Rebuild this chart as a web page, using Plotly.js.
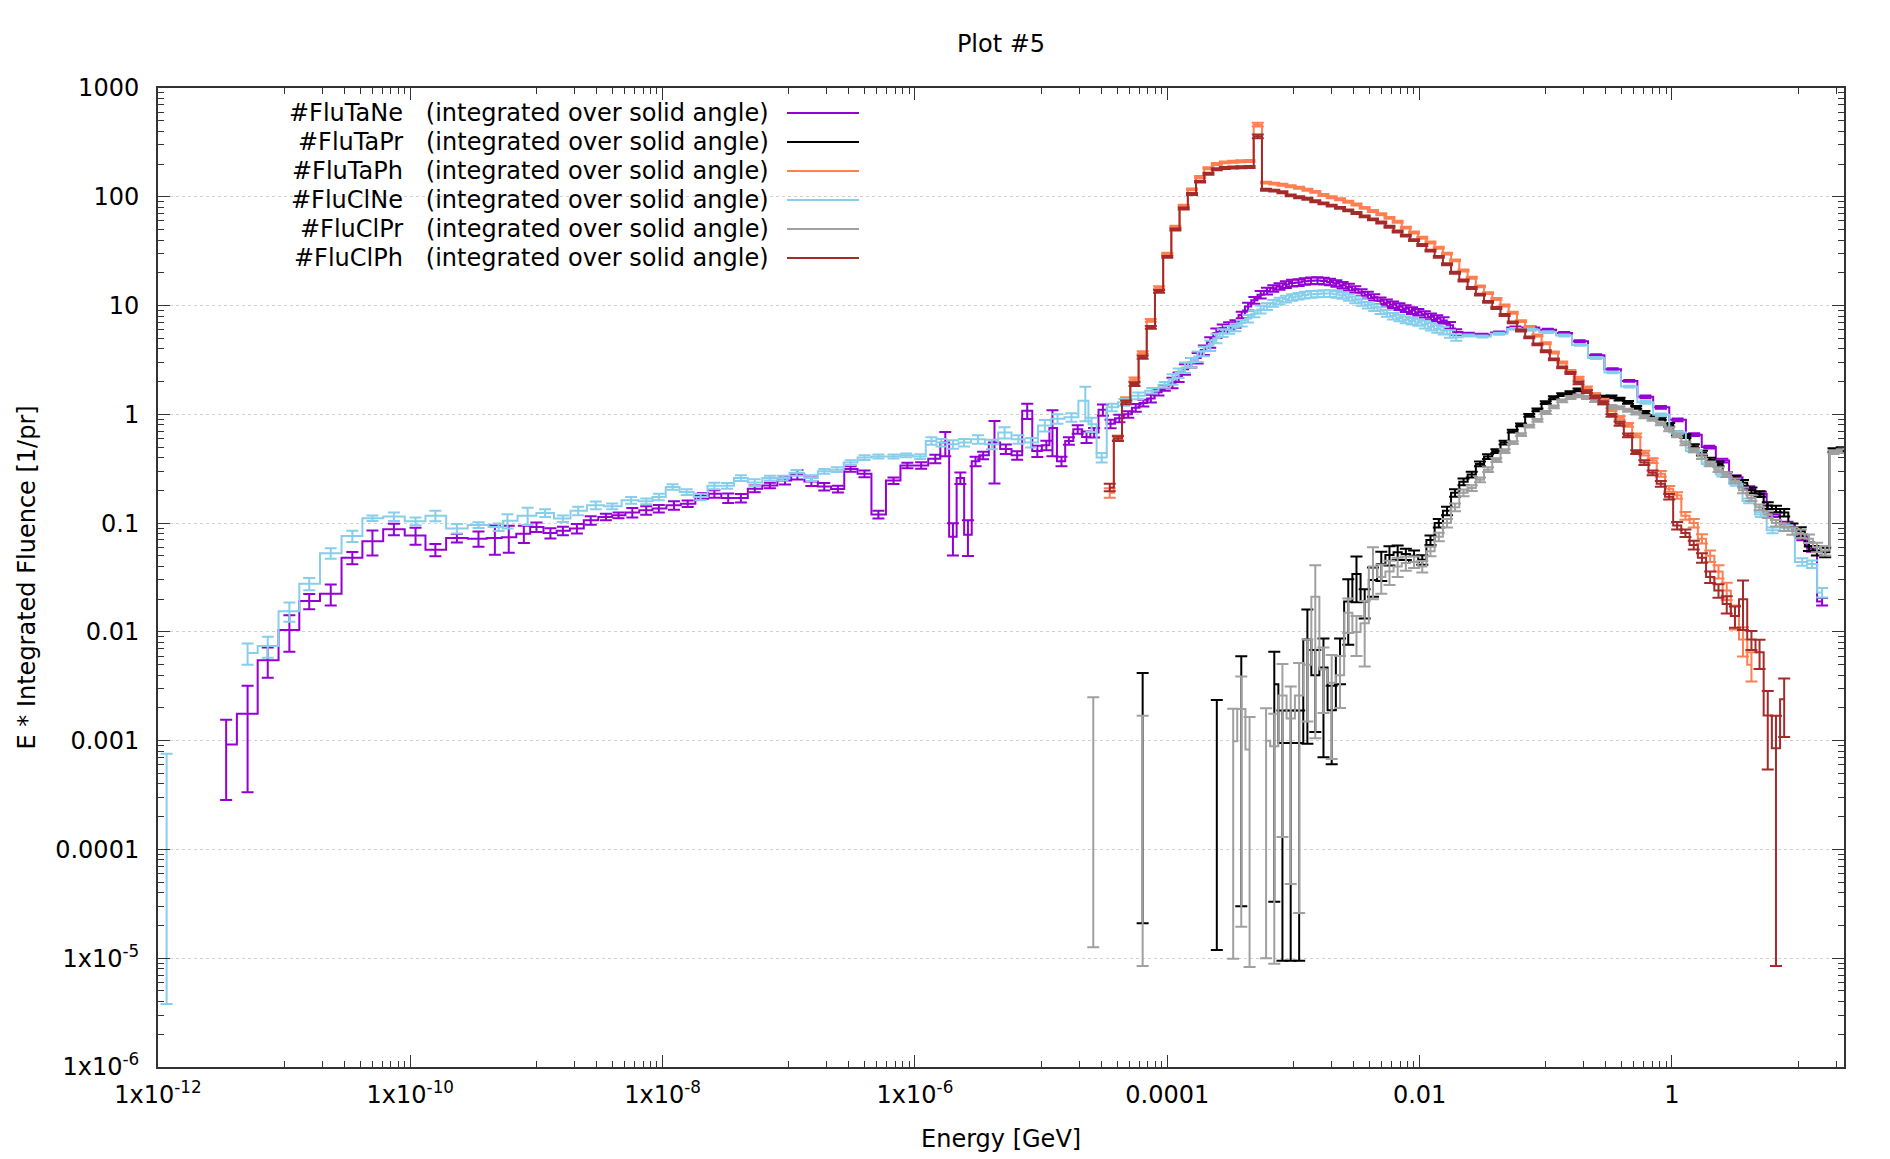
<!DOCTYPE html>
<html>
<head>
<meta charset="utf-8">
<script src="https://cdn.plot.ly/plotly-3.0.1.min.js"></script>
<style>
  html, body { margin: 0; padding: 0; background: #ffffff; }
  #chart { width: 1890px; height: 1159px; }
</style>
</head>
<body>
<div id="chart"></div>
<script>
// ---------------------------------------------------------------
// Boundary-crossing spectra (E * fluence, per primary), histogram
// steps with statistical errors in percent.
// ---------------------------------------------------------------

// Neutron energy bins shared by both neutron detectors (GeV)
const eNeBand = [1.10e-4, 1.23e-4, 1.38e-4, 1.55e-4, 1.74e-4, 1.95e-4, 2.19e-4, 2.45e-4, 2.75e-4, 3.09e-4,
  3.47e-4, 3.89e-4, 4.37e-4, 4.90e-4, 5.50e-4, 6.17e-4, 6.92e-4, 7.76e-4, 8.71e-4, 9.77e-4,
  1.10e-3, 1.23e-3, 1.38e-3, 1.55e-3, 1.74e-3, 1.95e-3, 2.19e-3, 2.45e-3, 2.75e-3, 3.09e-3,
  3.47e-3, 3.89e-3, 4.37e-3, 4.90e-3, 5.50e-3, 6.17e-3, 6.92e-3, 7.76e-3, 8.71e-3, 9.77e-3,
  1.10e-2, 1.23e-2, 1.38e-2, 1.55e-2, 1.74e-2, 1.95e-2];
const eNeHigh = [2.45e-2, 3.16e-2, 4.27e-2, 5.75e-2, 7.59e-2, 0.104, 0.140, 0.186, 0.251, 0.339,
  0.459, 0.617, 0.818, 1.11, 1.50, 1.98, 2.51, 3.21, 4.10, 5.07, 6.27, 8.24, 10.8, 12.9, 15.5];

// #FluTaNe low-energy bins
const eTaNeLow = [3.47e-12, 5.13e-12, 7.41e-12, 1.10e-11, 1.58e-11, 2.34e-11, 3.47e-11, 5.01e-11, 7.41e-11, 1.10e-10,
  1.58e-10, 2.34e-10, 3.47e-10,
  4.68e-10, 6.03e-10, 7.94e-10, 1.00e-9, 1.29e-9, 1.62e-9, 2.09e-9, 2.69e-9, 3.55e-9, 4.47e-9,
  5.75e-9, 7.41e-9, 9.33e-9, 1.23e-8, 1.58e-8, 2.09e-8, 2.57e-8, 3.31e-8, 4.17e-8, 5.37e-8,
  7.08e-8, 9.33e-8, 1.17e-7, 1.51e-7, 1.91e-7, 2.45e-7, 3.09e-7, 3.98e-7, 5.13e-7, 6.76e-7,
  8.71e-7, 1.12e-6, 1.45e-6, 1.74e-6, 2.00e-6, 2.29e-6, 2.63e-6, 3.02e-6, 3.47e-6, 4.27e-6,
  5.25e-6, 6.46e-6, 7.76e-6, 9.33e-6, 1.10e-5, 1.23e-5, 1.45e-5, 1.66e-5, 1.95e-5, 2.29e-5,
  2.63e-5, 3.09e-5, 3.55e-5, 4.17e-5, 4.90e-5, 5.62e-5, 6.46e-5, 7.41e-5, 8.51e-5, 9.55e-5];
const fluTaNe = [9.2e-4, 1.77e-3, 5.5e-3, 0.0104, 0.0192, 0.0224, 0.048, 0.068, 0.088, 0.077,
  0.057, 0.073, 0.072,
  0.073, 0.074, 0.080, 0.092, 0.081, 0.085, 0.089, 0.106, 0.114, 0.118,
  0.125, 0.131, 0.136, 0.146, 0.151, 0.178, 0.186, 0.170, 0.170, 0.207,
  0.222, 0.246, 0.280, 0.241, 0.217, 0.206, 0.315, 0.284, 0.120, 0.246,
  0.339, 0.339, 0.39, 0.55, 0.075, 0.26, 0.078, 0.37, 0.42, 0.55,
  0.48, 0.42, 1.08, 0.46, 0.52, 0.75, 0.37, 0.57, 0.73, 0.62,
  0.68, 1.10, 0.82, 0.92, 1.00, 1.15, 1.27, 1.40, 1.60, 1.75,
  // band
  1.95, 2.2, 2.6, 3.0, 3.3, 3.9, 4.6, 5.6, 6.2, 6.5,
  6.8, 8.2, 9.8, 11.2, 12.6, 13.6, 14.4, 15.0, 15.6, 16.1,
  16.3, 16.7, 16.9, 17.0, 16.8, 16.5, 16.0, 15.4, 14.8, 14.1,
  13.2, 12.5, 11.9, 11.1, 10.6, 10.2, 9.8, 9.4, 9.0, 8.7,
  8.3, 7.9, 7.6, 7.3, 6.6, 5.7,
  // high
  5.5, 5.4, 5.65, 6.3, 6.3, 6.0, 5.6, 4.7, 3.5, 2.6,
  2.03, 1.45, 1.16, 0.89, 0.65, 0.50, 0.376, 0.264, 0.21, 0.185,
  0.12, 0.098, 0.074, 0.058, 0.019];
const errTaNe = [69, 81, 31, 37, 16, 22, 13, 26, 12, 18,
  13, 9, 16,
  30, 28, 18, 10, 11, 9, 10, 9, 7, 6,
  10, 9, 8, 9, 7, 6, 8, 10, 9, 7,
  6, 8, 10, 9, 8, 7, 6, 7, 8, 7,
  6, 7, 9, 25, 33, 12, 36, 10, 8, 58,
  10, 9, 16, 12, 10, 45, 10, 8, 9, 12,
  10, 12, 9, 8, 7, 8, 7, 8, 7, 6,
  11, 10, 11, 10, 11, 10, 11, 10, 8, 8,
  8, 7, 8, 7, 8, 7, 7, 7, 7, 7,
  7, 7, 7, 7, 7, 7, 7, 7, 7, 7,
  7, 7, 7, 7, 7, 7, 7, 7, 7, 7,
  7, 7, 7, 7, 7, 6,
  2, 2, 2, 2, 2, 2, 2, 2, 2, 2,
  2, 3, 3, 3, 3, 3, 4, 4, 4, 5,
  5, 5, 6, 6, 8];

// #FluClNe low-energy bins (null = empty bin)
const eClNeLow = [1.17e-12, 2.51e-12, 5.13e-12, 7.41e-12, 1.10e-11, 1.58e-11, 2.34e-11, 3.47e-11, 5.01e-11, 7.41e-11,
  1.10e-10, 1.58e-10, 2.34e-10, 3.47e-10, 5.01e-10,
  5.89e-10, 8.51e-10, 1.17e-9, 1.62e-9, 2.14e-9, 2.95e-9, 3.98e-9, 5.62e-9, 7.41e-9, 9.33e-9,
  1.20e-8, 1.55e-8, 2.00e-8, 2.57e-8, 3.24e-8, 4.17e-8, 5.37e-8, 7.08e-8, 8.91e-8, 1.15e-7,
  1.51e-7, 1.91e-7, 2.40e-7, 3.09e-7, 3.98e-7, 5.13e-7, 6.76e-7, 8.51e-7, 1.10e-6, 1.35e-6,
  1.62e-6, 2.00e-6, 2.45e-6, 3.16e-6, 4.07e-6, 5.13e-6, 6.61e-6, 8.32e-6, 1.07e-5, 1.35e-5,
  1.74e-5, 2.24e-5, 2.51e-5, 3.02e-5, 3.63e-5, 4.57e-5, 5.89e-5, 7.59e-5, 9.55e-5];
const fluClNe = [3.8e-4, null, 6.4e-3, 7.4e-3, 0.0155, 0.0277, 0.0528, 0.076, 0.111, 0.115,
  0.104, 0.117, 0.089, 0.096, 0.092,
  0.105, 0.117, 0.124, 0.110, 0.130, 0.146, 0.143, 0.162, 0.159, 0.174,
  0.215, 0.193, 0.174, 0.22, 0.22, 0.26, 0.236, 0.26, 0.26, 0.29,
  0.26, 0.30, 0.31, 0.36, 0.40, 0.41, 0.41, 0.42, 0.41, 0.57,
  0.55, 0.53, 0.55, 0.59, 0.53, 0.68, 0.59, 0.55, 0.79, 0.91,
  0.94, 1.33, 0.81, 0.40, 1.16, 1.29, 1.48, 1.65, 1.87,
  // band
  2.1, 2.4, 2.7, 3.0, 3.4, 3.8, 4.3, 5.0, 5.6, 6.0,
  6.3, 6.9, 7.6, 8.4, 9.2, 9.8, 10.5, 11.0, 11.5, 11.9,
  12.2, 12.5, 12.7, 12.8, 12.9, 12.9, 12.7, 12.4, 11.9, 11.3,
  10.7, 10.1, 9.6, 9.0, 8.5, 8.0, 7.7, 7.4, 7.2, 7.0,
  6.7, 6.4, 6.1, 5.9, 5.5, 5.1,
  // high
  5.3, 5.2, 5.5, 6.1, 6.0, 5.7, 5.3, 4.35, 3.3, 2.43,
  1.8, 1.29, 0.99, 0.68, 0.46, 0.35, 0.28, 0.23, 0.16, 0.12,
  0.086, 0.09, 0.044, 0.042, 0.023];
const errClNe = [99, null, 22, 22, 20, 13, 11, 12, 6, 9,
  8, 11, 10, 6, 8,
  15, 18, 8, 7, 9, 8, 6, 7, 6, 7,
  6, 6, 7, 7, 6, 6, 7, 5, 5, 6,
  6, 5, 5, 5, 5, 4, 4, 4, 5, 8,
  8, 9, 8, 9, 10, 12, 9, 10, 12, 10,
  9, 35, 15, 10, 8, 7, 7, 6, 6,
  11, 10, 11, 10, 11, 10, 11, 10, 8, 8,
  8, 7, 8, 7, 8, 7, 7, 7, 7, 7,
  7, 7, 7, 7, 7, 7, 7, 7, 7, 7,
  7, 7, 7, 7, 7, 7, 7, 7, 7, 7,
  8, 8, 8, 8, 8, 7,
  2, 2, 2, 2, 2, 2, 2, 2, 2, 2,
  2, 3, 3, 3, 3, 4, 4, 4, 5, 5,
  6, 6, 8, 8, 10];

// Photon / proton energy bins (GeV), shared by the four charged/photon detectors
const eChg = [2.59e-5, 3.01e-5, 3.50e-5, 4.06e-5, 4.72e-5, 5.50e-5, 6.38e-5, 7.41e-5, 8.61e-5, 1.00e-4,
  1.16e-4, 1.35e-4, 1.57e-4, 1.82e-4, 2.12e-4, 2.47e-4, 2.86e-4, 3.33e-4, 3.86e-4, 4.49e-4,
  5.22e-4, 6.07e-4, 7.05e-4, 8.18e-4, 9.51e-4, 1.11e-3, 1.29e-3, 1.49e-3, 1.73e-3, 2.01e-3,
  2.34e-3, 2.72e-3, 3.16e-3, 3.67e-3, 4.27e-3, 4.97e-3, 5.77e-3, 6.70e-3, 7.78e-3, 9.04e-3,
  1.05e-2, 1.22e-2, 1.42e-2, 1.65e-2, 1.91e-2, 2.23e-2, 2.59e-2, 3.01e-2, 3.49e-2, 4.06e-2,
  4.72e-2, 5.48e-2, 6.37e-2, 7.40e-2, 8.59e-2, 0.100, 0.116, 0.135, 0.157, 0.182,
  0.212, 0.246, 0.286, 0.332, 0.385, 0.449, 0.521, 0.605, 0.703, 0.817,
  0.951, 1.10, 1.28, 1.49, 1.73, 2.01, 2.34, 2.72, 3.16, 3.66,
  4.27, 4.95, 5.75, 6.68, 7.76, 9.02, 10.5, 12.2, 14.1, 16.4,
  19.1, 22.2];

const fluTaPh = [null, null, 0.19, 0.61, 1.38, 2.1, 3.7, 7.3, 14.6, 30,
  53, 83, 117, 152, 183, 200, 207, 210, 212, 213,
  460, 135, 132, 129, 125, 121, 116, 111, 104, 99,
  95, 90, 85, 79, 74, 69, 64, 59, 52, 47,
  42, 38, 34, 30, 26, 21, 18, 15, 13, 11.5,
  10, 8.6, 7.2, 6.3, 5.3, 4.5, 3.7, 3.0, 2.5, 2.15,
  1.75, 1.52, 1.35, 1.10, 0.93, 0.80, 0.64, 0.44, 0.376, 0.284,
  0.207, 0.18, 0.117, 0.10, 0.072, 0.050, 0.036, 0.024, 0.014, 0.0085,
  0.0050, null, null, null, null, null, null, null, null, null,
  null, null];
const errTaPh = [null, null, 10, 5, 4, 4, 3, 3, 3, 2,
  2, 2, 2, 2, 2, 2, 2, 2, 2, 2,
  4, 2, 2, 2, 2, 2, 2, 2, 2, 2,
  2, 2, 2, 2, 2, 2, 2, 2, 2, 2,
  2, 2, 2, 2, 2, 2, 2, 2, 2, 2,
  2, 2, 2, 2, 2, 2, 2, 2, 2, 3,
  3, 3, 3, 3, 4, 4, 4, 5, 5, 6,
  6, 7, 8, 9, 10, 12, 14, 18, 25, 30,
  30, null, null, null, null, null, null, null, null, null,
  null, null];

const fluClPh = [null, null, 0.213, 0.60, 1.29, 1.9, 3.35, 6.3, 13.5, 28,
  50, 78, 106, 138, 163, 179, 184, 186, 187, 188,
  360, 116, 114, 110, 103, 99, 96, 91, 87, 83,
  79, 75, 71, 66, 62, 58, 53, 48, 44, 40,
  36, 32, 28, 24, 20, 17, 14.5, 12.6, 10.8, 9.5,
  8.2, 7.0, 5.9, 5.1, 4.4, 3.8, 3.2, 2.7, 2.4, 1.95,
  1.62, 1.45, 1.28, 0.98, 0.82, 0.64, 0.45, 0.36, 0.29, 0.23,
  0.175, 0.095, 0.081, 0.063, 0.048, 0.032, 0.024, 0.018, 0.014, 0.020,
  0.0085, 0.0065, 1.7e-3, 8.5e-4, 2.4e-3, null, null, null, null, null,
  null, null];
const errClPh = [null, null, 8, 5, 4, 4, 3, 3, 3, 2,
  2, 2, 2, 2, 2, 2, 2, 2, 2, 2,
  4, 2, 2, 2, 2, 2, 2, 2, 2, 2,
  2, 2, 2, 2, 2, 2, 2, 2, 2, 2,
  2, 2, 2, 2, 2, 2, 2, 2, 2, 2,
  2, 2, 2, 2, 2, 2, 2, 2, 2, 3,
  3, 3, 3, 3, 4, 4, 4, 5, 5, 6,
  6, 8, 8, 9, 10, 12, 14, 18, 22, 48,
  20, 30, 68, 99, 55, null, null, null, null, null,
  null, null];

const fluTaPr = [null, null, null, null, null, null, 2.1e-3, null, null, null,
  null, null, null, null, null, 1.19e-3, null, null, 3.0e-3, null,
  null, null, 3.3e-3, 9.5e-4, 9.5e-4, 9.5e-4, 8.5e-3, 4.0e-3, 4.7e-3, 1.9e-3,
  6.0e-3, 0.019, 0.034, 0.019, 0.030, 0.042, 0.051, 0.054, 0.052, 0.050,
  0.046, 0.070, 0.10, 0.13, 0.19, 0.24, 0.28, 0.35, 0.41, 0.46,
  0.55, 0.70, 0.80, 0.98, 1.10, 1.28, 1.42, 1.52, 1.58, 1.68,
  1.62, 1.50, 1.44, 1.45, 1.38, 1.29, 1.16, 1.04, 0.95, 0.92,
  0.80, 0.67, 0.63, 0.51, 0.44, 0.38, 0.35, 0.28, 0.26, 0.235,
  0.20, 0.185, 0.145, 0.135, 0.125, 0.092, 0.084, 0.061, 0.056, 0.054,
  0.47, 0.48];
const errTaPr = [null, null, null, null, null, null, 99, null, null, null,
  null, null, null, null, null, 99, null, null, 99, null,
  null, null, 99, 99, 99, 99, 89, 70, 85, 68,
  45, 60, 45, 30, 30, 30, 20, 15, 12, 12,
  10, 10, 9, 9, 8, 7, 6, 5, 5, 4,
  4, 3, 3, 3, 3, 3, 3, 3, 3, 3,
  3, 3, 3, 3, 3, 3, 3, 3, 3, 3,
  4, 4, 4, 4, 5, 5, 5, 5, 5, 6,
  6, 6, 7, 7, 8, 8, 9, 9, 10, 10,
  4, 4];

const fluClPr = [1.26e-3, null, null, null, null, null, 8.5e-4, null, null, null,
  null, null, null, null, null, null, null, 9.9e-4, 1.95e-3, 8.3e-4,
  null, 1.0e-3, 8.9e-4, 2.6e-3, 1.6e-3, 2.6e-3, 5.0e-3, 0.021, 4.5e-3, 3.4e-3,
  4.0e-3, 0.015, 0.010, 0.012, 0.040, 0.032, 0.036, 0.040, 0.043, 0.044,
  0.040, 0.055, 0.075, 0.100, 0.14, 0.19, 0.21, 0.25, 0.31, 0.38,
  0.46, 0.55, 0.65, 0.78, 0.88, 1.04, 1.17, 1.33, 1.43, 1.48,
  1.43, 1.34, 1.26, 1.18, 1.15, 1.09, 1.03, 0.95, 0.90, 0.82,
  0.73, 0.64, 0.54, 0.47, 0.41, 0.35, 0.31, 0.28, 0.245, 0.20,
  0.17, 0.14, 0.12, 0.10, 0.092, 0.085, 0.080, 0.072, 0.060, 0.056,
  0.45, 0.46];
const errClPr = [99, null, null, null, null, null, 99, null, null, null,
  null, null, null, null, null, null, null, 99, 99, 99,
  null, 99, 99, 95, 97, 99, 70, 95, 60, 80,
  50, 35, 40, 60, 50, 30, 25, 20, 15, 12,
  12, 10, 9, 9, 8, 7, 6, 5, 5, 4,
  4, 3, 3, 3, 3, 3, 3, 3, 3, 3,
  3, 3, 3, 3, 3, 3, 3, 3, 3, 3,
  4, 4, 4, 4, 5, 5, 5, 5, 5, 6,
  6, 6, 7, 7, 8, 8, 9, 9, 10, 10,
  4, 4];

const legendNames = ['#FluTaNe', '#FluTaPr', '#FluTaPh', '#FluClNe', '#FluClPr', '#FluClPh'];
const legendSuffix = '(integrated over solid angle)';
const seriesColors = ['#9400d3', '#000000', '#ff7f50', '#87ceeb', '#a0a0a0', '#a52a2a'];

const xTickVals = [1e-12, 1e-10, 1e-8, 1e-6, 1e-4, 1e-2, 1];
const xTickText = ['1x10<sup>-12</sup>', '1x10<sup>-10</sup>', '1x10<sup>-8</sup>', '1x10<sup>-6</sup>', '0.0001', '0.01', '1'];
const yTickVals = [1e-6, 1e-5, 1e-4, 1e-3, 1e-2, 0.1, 1, 10, 100, 1000];
const yTickText = ['1x10<sup>-6</sup>', '1x10<sup>-5</sup>', '0.0001', '0.001', '0.01', '0.1', '1', '10', '100', '1000'];

// ---------------------------------------------------------------
const eTaNe = eTaNeLow.concat(eNeBand, eNeHigh);
const eClNe = eClNeLow.concat(eNeBand, eNeHigh);

function absErr(vals, pct) {
  return vals.map((v, i) => (v == null || pct[i] == null) ? null : v * pct[i] / 100);
}

function histTrace(name, x, y, pct, color) {
  return {
    type: 'scatter',
    mode: 'lines',
    name: name,
    x: x,
    y: y,
    connectgaps: false,
    line: { shape: 'hvh', color: color, width: 2 },
    error_y: {
      type: 'data', symmetric: true, array: absErr(y, pct),
      visible: true, color: color, thickness: 2, width: 6
    },
    hoverinfo: 'skip'
  };
}

const traces = [
  histTrace(legendNames[0], eTaNe, fluTaNe, errTaNe, seriesColors[0]),
  histTrace(legendNames[1], eChg, fluTaPr, errTaPr, seriesColors[1]),
  histTrace(legendNames[2], eChg, fluTaPh, errTaPh, seriesColors[2]),
  histTrace(legendNames[3], eClNe, fluClNe, errClNe, seriesColors[3]),
  histTrace(legendNames[4], eChg, fluClPr, errClPr, seriesColors[4]),
  histTrace(legendNames[5], eChg, fluClPh, errClPh, seriesColors[5])
];

// minor tick positions for the log axes
const xMinor = [];
for (let p = -11; p <= 1; p += 2) for (let m = 1; m <= 9; m++) xMinor.push(m * Math.pow(10, p));
const yMinor = [];
for (let p = -6; p <= 2; p++) for (let m = 2; m <= 9; m++) yMinor.push(m * Math.pow(10, p));

// plot area in pixels
const W = 1890, H = 1159;
const PL = 158, PR = 1844, PT = 88, PB = 1067;
const pw = PR - PL, ph = PB - PT;
const px = v => (v - PL) / pw;
const py = v => (PB - v) / ph;

const annotations = [];
const shapes = [];
const rowY = [113, 142, 171, 200, 229, 258];
legendNames.forEach((n, i) => {
  annotations.push({
    xref: 'paper', yref: 'paper', x: px(771), y: py(rowY[i]),
    xanchor: 'right', yanchor: 'middle', showarrow: false,
    text: n + '\u00a0\u00a0\u00a0' + legendSuffix,
    font: { size: 24, color: '#000' }
  });
  shapes.push({
    type: 'line', xref: 'paper', yref: 'paper',
    x0: px(787), x1: px(859), y0: py(rowY[i]), y1: py(rowY[i]),
    line: { color: seriesColors[i], width: 2 }
  });
});
// vertical grid lines only at the labelled decades
xTickVals.slice(1).forEach(v => {
  shapes.push({
    type: 'line', xref: 'x', yref: 'paper', x0: Math.log10(v), x1: Math.log10(v), y0: 0, y1: 1,
    layer: 'below', line: { color: '#d0d0d0', width: 1, dash: 'dot' }
  });
});
annotations.push({
  xref: 'paper', yref: 'paper', x: px(26), y: 0.5, xanchor: 'center', yanchor: 'middle',
  textangle: -90, showarrow: false, text: 'E * Integrated Fluence [1/pr]',
  font: { size: 24, color: '#000' }
});
annotations.push({
  xref: 'paper', yref: 'paper', x: 0.5, y: py(1139), xanchor: 'center', yanchor: 'middle',
  showarrow: false, text: 'Energy [GeV]', font: { size: 24, color: '#000' }
});

const axisCommon = {
  type: 'log',
  ticks: 'inside', ticklen: 12, tickwidth: 1, tickcolor: '#333',
  showline: true, linecolor: '#333', linewidth: 2, mirror: 'ticks',
  zeroline: false, tickmode: 'array',
  tickfont: { size: 24, color: '#000' }
};

const layout = {
  width: W, height: H,
  margin: { l: PL, r: W - PR, t: PT, b: H - PB },
  paper_bgcolor: '#ffffff', plot_bgcolor: '#ffffff',
  font: { family: 'DejaVu Sans, sans-serif', size: 24, color: '#000' },
  title: {
    text: 'Plot #5', x: 0.5, xref: 'paper', xanchor: 'center',
    y: 1 - 44 / H, yref: 'container', yanchor: 'middle',
    font: { size: 24, color: '#000' }
  },
  showlegend: false,
  hovermode: false,
  xaxis: Object.assign({}, axisCommon, {
    range: [-12, 1.364],
    tickvals: xTickVals, ticktext: xTickText,
    showgrid: false,
    ticklabelstandoff: 5,
    minor: { tickmode: 'array', tickvals: xMinor, ticks: 'inside', ticklen: 6, tickcolor: '#333', showgrid: false }
  }),
  yaxis: Object.assign({}, axisCommon, {
    range: [-6, 3],
    tickvals: yTickVals, ticktext: yTickText,
    showgrid: true, gridcolor: '#d0d0d0', griddash: 'dot', gridwidth: 1,
    ticklabelstandoff: 12,
    minor: { tickmode: 'array', tickvals: yMinor, ticks: 'inside', ticklen: 6, tickcolor: '#333', showgrid: false }
  }),
  annotations: annotations,
  shapes: shapes
};

Plotly.newPlot('chart', traces, layout, { staticPlot: true, displayModeBar: false });
</script>
</body>
</html>
